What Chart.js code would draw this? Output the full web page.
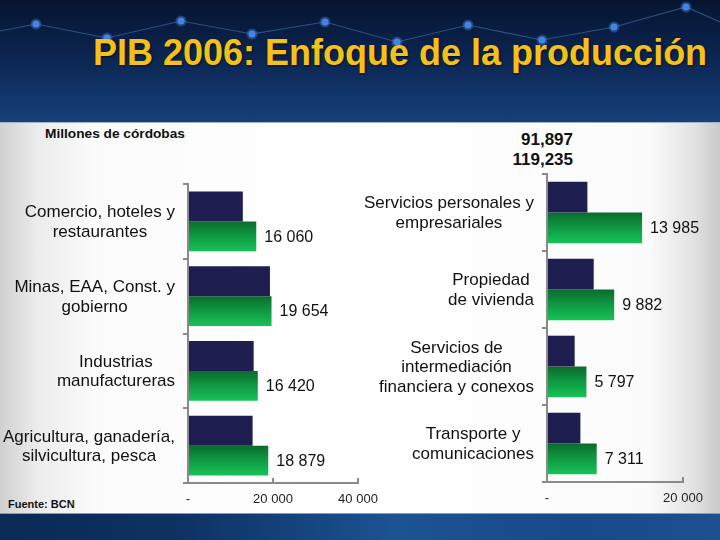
<!DOCTYPE html>
<html><head><meta charset="utf-8">
<script src="https://cdn.jsdelivr.net/npm/chart.js@4"></script>
<style>
html,body{margin:0;padding:0;}
body{width:720px;height:540px;position:relative;overflow:hidden;font-family:"Liberation Sans",Arial,sans-serif;background:#fff;}
#header{position:absolute;left:0;top:0;width:720px;height:122px;background:linear-gradient(180deg,#061530 0%,#0b2450 45%,#15407a 100%);}
#deco{position:absolute;left:0;top:0;}
#panel{position:absolute;left:0;top:122px;width:720px;height:391px;background:linear-gradient(90deg,#d0d0d0 0%,#ebebeb 5%,#fbfbfb 13%,#ffffff 50%,#fbfbfb 90%,#e4e4e4 96%,#cacaca 100%);border-top:1px solid #9fb3cc;box-sizing:border-box;}
#footer{position:absolute;left:0;top:513px;width:720px;height:27px;background:linear-gradient(90deg,#0b2a56 0%,#0d3262 25%,#1c5393 55%,#174a88 80%,#1c508e 100%);border-top:1px solid #7f9cc2;box-sizing:border-box;}
#title{position:absolute;left:93px;top:35px;font-size:36px;line-height:36px;font-weight:bold;color:#f4c118;white-space:nowrap;text-shadow:1px 1px 2px rgba(0,0,0,0.7);}
#unit{position:absolute;left:45px;top:126px;font-size:13.7px;line-height:16px;font-weight:bold;color:#111;}
#totals{position:absolute;right:147px;top:130px;font-size:17px;line-height:20px;font-weight:bold;color:#111;text-align:right;}
#source{position:absolute;left:8px;top:497px;font-size:11px;line-height:14px;font-weight:bold;color:#111;}
canvas{position:absolute;}
#cLeft{left:0;top:170px;}
#cRight{left:340px;top:160px;}
</style>
</head><body>
<div id="header"></div>
<svg id="deco" width="720" height="122">
  <polyline points="0,31 36,24 107,38 181,21 252,34 325,22 397,42 468,25 542,40 614,27 686,7 720,22" fill="none" stroke="rgba(90,140,210,0.45)" stroke-width="1.2"/>
  <g fill="#3f82e6" stroke="rgba(80,140,230,0.35)" stroke-width="4">
    <circle cx="36" cy="24" r="3.5"/><circle cx="107" cy="38" r="3.5"/><circle cx="181" cy="21" r="3.5"/>
    <circle cx="252" cy="34" r="3.5"/><circle cx="325" cy="22" r="3.5"/><circle cx="397" cy="42" r="3.5"/>
    <circle cx="468" cy="25" r="3.5"/><circle cx="542" cy="40" r="3.5"/><circle cx="614" cy="27" r="3.5"/>
    <circle cx="686" cy="7" r="3.5"/>
  </g>
</svg>
<div id="title">PIB 2006: Enfoque de la producción</div>
<div id="panel"></div>
<div id="footer"></div>
<div id="unit">Millones de córdobas</div>
<div id="totals"><div id="t1"></div><div id="t2"></div></div>
<div id="source">Fuente: BCN</div>
<canvas id="cLeft" width="398" height="345"></canvas>
<canvas id="cRight" width="380" height="355"></canvas>
<script>
// ---- data ----
const categoriesLeft = [["Comercio, hoteles y","restaurantes"],["Minas, EAA, Const. y","gobierno"],["Industrias","manufactureras"],["Agricultura, ganadería,","silvicultura, pesca"]];
const navyLeft  = [12900, 19280, 15450, 15200];
const greenLeft = [16060, 19654, 16420, 18879];
const ticksLeft = [0, 20000, 40000];

const categoriesRight = [["Servicios personales y","empresariales"],["Propiedad","de vivienda"],["Servicios de","intermediación","financiera y conexos"],["Transporte y","comunicaciones"]];
const navyRight  = [5940, 6870, 4070, 4910];
const greenRight = [13985, 9882, 5797, 7311];
const ticksRight = [0, 20000];

const totals = ["91,897", "119,235"];

document.getElementById('t1').textContent = totals[0];
document.getElementById('t2').textContent = totals[1];

function fmt(v){ return v === 0 ? '-' : String(Math.round(v)).replace(/\B(?=(\d{3})+(?!\d))/g, ' '); }

const FONT = '"Liberation Sans", Arial, sans-serif';

function greenFill(c){
  const chart = c.chart, ys = chart.scales && chart.scales.y;
  if (!ys || !chart.chartArea || c.dataIndex === undefined) return '#12a84a';
  const cy = ys.getPixelForValue(c.dataIndex);
  const band = Math.abs(ys.getPixelForValue(1) - ys.getPixelForValue(0));
  const top = cy, bot = cy + band * 0.4;
  const g = chart.ctx.createLinearGradient(0, top, 0, bot);
  g.addColorStop(0, '#0a6b2d');
  g.addColorStop(0.5, '#0f9a42');
  g.addColorStop(1, '#17c258');
  return g;
}

const labelPlugin = {
  id: 'labelPlugin',
  afterDraw(chart){
    const ctx = chart.ctx, ys = chart.scales.y;
    ctx.save();
    ctx.fillStyle = '#111';
    ctx.textBaseline = 'middle';
    ctx.font = '17px ' + FONT;
    ctx.textAlign = 'center';
    const right = chart.chartArea.left - 13;
    chart.data.labels.forEach((lines, i) => {
      const cy = ys.getPixelForValue(i) + 1;
      const w = Math.max(...lines.map(l => ctx.measureText(l).width));
      const cx = right - w / 2;
      const lh = 19.5;
      lines.forEach((l, j) => ctx.fillText(l, cx, cy + (j - (lines.length - 1) / 2) * lh));
    });
    ctx.font = '16px ' + FONT;
    ctx.textAlign = 'left';
    const meta = chart.getDatasetMeta(1);
    meta.data.forEach((bar, i) => {
      ctx.fillText(fmt(chart.data.datasets[1].data[i]), bar.x + 8, bar.y + 1);
    });
    ctx.restore();
  }
};

function makeChart(id, cats, navy, green, tickVals, yWidth, xHeight, pad){
  return new Chart(document.getElementById(id), {
    type: 'bar',
    data: {
      labels: cats,
      datasets: [
        { data: navy, backgroundColor: '#1e1e50', categoryPercentage: 0.8, barPercentage: 1.0 },
        { data: green, backgroundColor: greenFill, categoryPercentage: 0.8, barPercentage: 1.0 }
      ]
    },
    options: {
      indexAxis: 'y',
      responsive: false,
      animation: false,
      events: [],
      layout: { padding: pad },
      plugins: { legend: { display: false }, tooltip: { enabled: false } },
      scales: {
        y: {
          type: 'category',
          ticks: { display: false },
          grid: { display: true, drawOnChartArea: false, drawTicks: true, tickLength: 5, color: '#8a8a8a', lineWidth: 2, offset: true },
          border: { display: true, color: '#8a8a8a', width: 2 },
          afterFit: s => { s.width = yWidth; }
        },
        x: {
          min: tickVals[0], max: tickVals[tickVals.length - 1],
          afterBuildTicks: s => { s.ticks = tickVals.map(v => ({ value: v })); },
          ticks: { callback: v => fmt(v), color: '#222', font: { family: FONT, size: 13 }, padding: 14, maxRotation: 0 },
          grid: { display: true, drawOnChartArea: false, drawTicks: true, tickLength: -5, color: '#8a8a8a', lineWidth: 2 },
          border: { display: true, color: '#8a8a8a', width: 2 },
          afterFit: s => { s.height = xHeight; }
        }
      }
    },
    plugins: [labelPlugin]
  });
}

makeChart('cLeft', categoriesLeft, navyLeft, greenLeft, ticksLeft, 188, 32, { top: 14, right: 40, left: 0, bottom: 0 });
makeChart('cRight', categoriesRight, navyRight, greenRight, ticksRight, 207, 33, { top: 14, right: 37, left: 0, bottom: 0 });
</script>
</body></html>
